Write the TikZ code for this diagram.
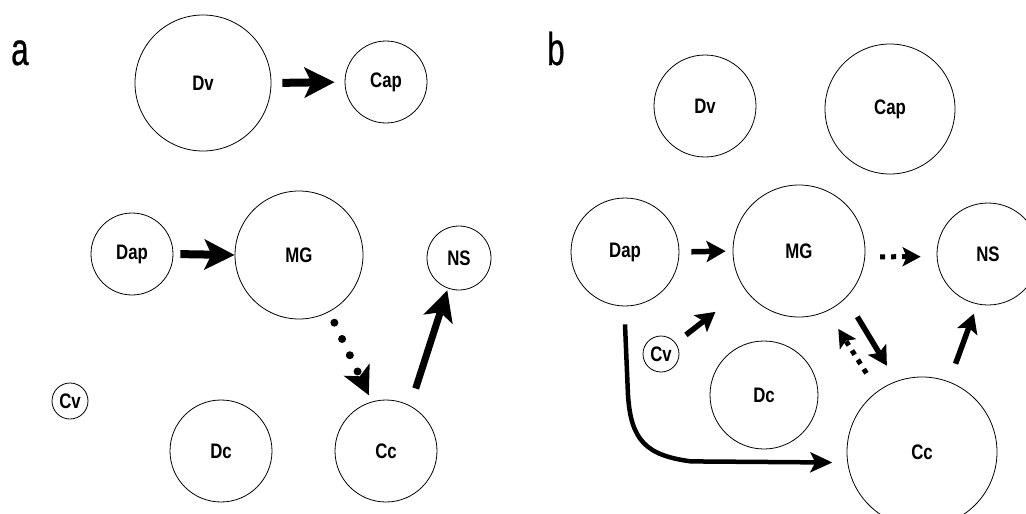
\documentclass[tikz,border=0pt]{standalone}
\usepackage{fontspec}
\usetikzlibrary{arrows.meta}
\newfontfamily\labfont[FakeStretch=0.8]{Liberation Sans}
\newfontfamily\panelfont[FakeStretch=0.68,FakeBold=0.6]{Liberation Sans}

\begin{document}
\begin{tikzpicture}[x=1pt,y=-1pt,
  cell/.style={circle,draw,line width=0.8pt,inner sep=0pt,
    font=\labfont\bfseries\fontsize{21}{21}\selectfont},
  panel/.style={anchor=base west,inner sep=0pt,
    font=\panelfont\fontsize{46}{46}\selectfont},
  bigarrow/.style={line width=8pt,-{Stealth[length=30pt,width=30pt,inset=7pt]}},
  dotarrow/.style={line width=8pt,line cap=round,dash pattern=on 0pt off 18pt,
    -{Stealth[length=28pt,width=28pt,inset=7pt]}},
  medarrow/.style={line width=5.5pt,-{Stealth[length=19pt,width=21pt,inset=4pt]}},
  sqarrow/.style={line width=5pt,dash pattern=on 5pt off 6pt,
    -{Stealth[length=18pt,width=19pt,inset=4pt]}},
  curvearrow/.style={line width=4.5pt,-{Stealth[length=22pt,width=20pt,inset=5pt]}}]

\fill[white] (0,0) rectangle (1026,514);
\useasboundingbox (0,0) rectangle (1026,514);
\clip (0,0) rectangle (1026,514);

% ---------- panel a ----------
\node[panel] (pa) at (11,65) {a};
\node[cell,minimum size=136pt] (Dva)  at (203,83)  {Dv};
\node[cell,minimum size=82pt]  (Capa) at (386,82)  {Cap};
\node[cell,minimum size=82pt]  (Dapa) at (132,254) {Dap};
\node[cell,minimum size=128pt] (MGa)  at (299,255) {MG};
\node[cell,minimum size=64pt]  (NSa)  at (459,258) {NS};
\node[cell,minimum size=36pt]  (Cva)  at (70,401)  {Cv};
\node[cell,minimum size=102pt] (Dca)  at (221,451) {Dc};
\node[cell,minimum size=102pt] (Cca)  at (386,451) {Cc};

\draw[bigarrow,shorten <=11pt,shorten >=10pt] (Dva.east) -- (Capa.west);
\draw[bigarrow,shorten <=7pt] (Dapa.east) -- (MGa.west);
\draw[dotarrow,shorten <=12pt,shorten >=7pt] (MGa.-62) -- (Cca.106);
\draw[bigarrow,line width=7pt,shorten <=18pt,shorten >=2pt] (Cca.62) -- (NSa.250);

% ---------- panel b ----------
\node[panel] (pb) at (547,65) {b};
\node[cell,minimum size=102pt] (Dvb)  at (705,106) {Dv};
\node[cell,minimum size=130pt] (Capb) at (890,109) {Cap};
\node[cell,minimum size=108pt] (Dapb) at (625,252) {Dap};
\node[cell,minimum size=132pt] (MGb)  at (799,251) {MG};
\node[cell,minimum size=102pt] (NSb)  at (988,254) {NS};
\node[cell,minimum size=36pt]  (Cvb)  at (661,354) {Cv};
\node[cell,minimum size=108pt] (Dcb)  at (764,395) {Dc};
\node[cell,minimum size=150pt] (Ccb)  at (922,452) {Cc};

\draw[medarrow,shorten <=12pt,shorten >=7pt] (Dapb.east) -- (MGb.west);
\draw[sqarrow,shorten <=15pt,shorten >=16pt] (MGb.-5) -- (NSb.183);
\draw[medarrow,shorten <=13pt,shorten >=37pt] (Cvb.37) -- (MGb.215);
\draw[medarrow,shorten <=22pt,shorten >=18pt] (MGb.-45) -- (Ccb.110);
\draw[sqarrow,shorten <=21pt,shorten >=21pt] (Ccb.126) -- (MGb.-65);
\draw[medarrow,shorten <=19pt,shorten >=10pt] (Ccb.69) -- (NSb.-102);
\draw[curvearrow] ([yshift=-18pt]Dapb.south) -- ++(3,71)
  .. controls +(3,45) and +(-45,-6) .. ++(63,66)
  -- ([xshift=-15pt]Ccb.188);
\end{tikzpicture}
\end{document}
